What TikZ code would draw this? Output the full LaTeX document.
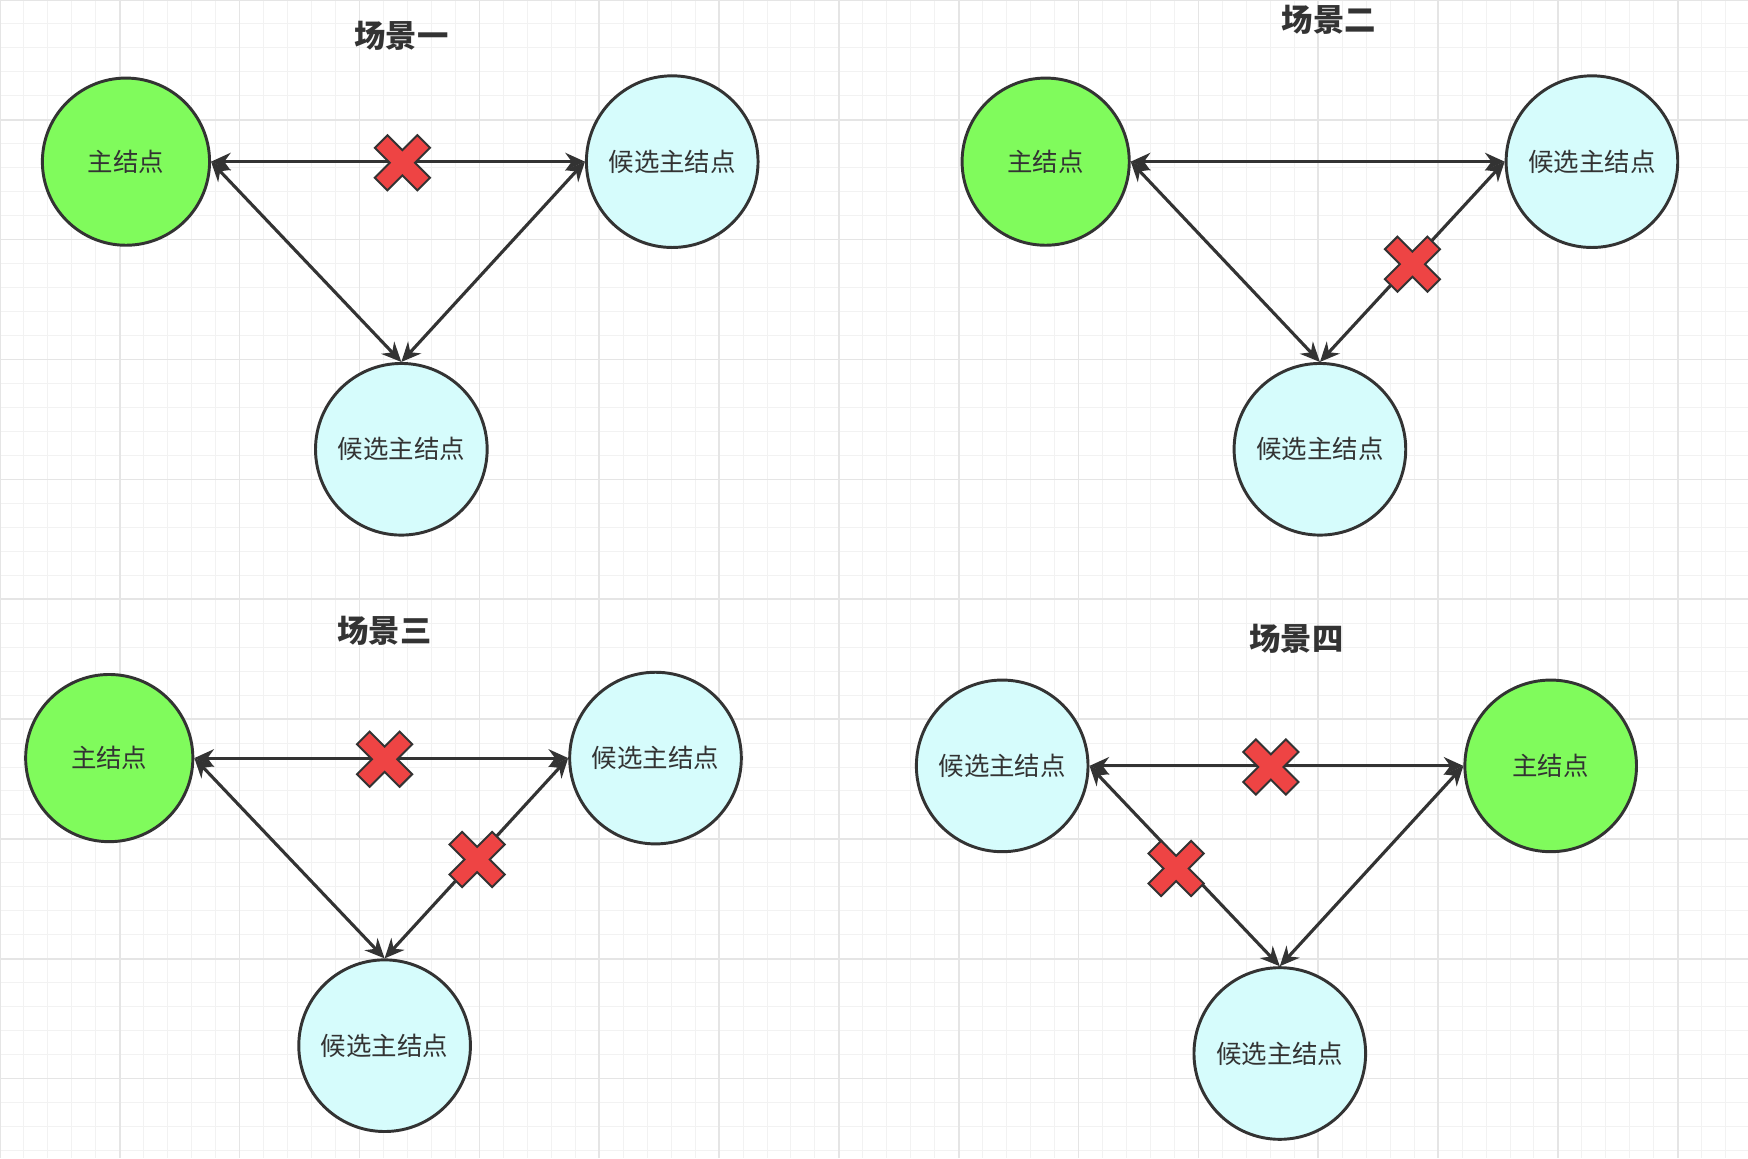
\documentclass[tikz,border=0pt]{standalone}
\usepackage{fontspec}
\setmainfont{Noto Sans CJK SC}
\usetikzlibrary{arrows.meta}
\definecolor{mastergreen}{HTML}{80FB5C}
\definecolor{candcyan}{HTML}{D6FCFC}
\definecolor{edgegray}{HTML}{333333}
\definecolor{crossred}{HTML}{EE4444}
\tikzset{
  master/.style={circle,draw=edgegray,line width=1.5pt,fill=mastergreen,minimum size=3cm,inner sep=0pt,font=\fontsize{13}{14}\selectfont,text=edgegray},
  cand/.style={circle,draw=edgegray,line width=1.5pt,fill=candcyan,minimum size=3.08cm,inner sep=0pt,font=\fontsize{13}{14}\selectfont,text=edgegray},
  link/.style={{Stealth[length=10pt,width=9pt]}-{Stealth[length=10pt,width=9pt]},line width=1.6pt,draw=edgegray},
  title/.style={font=\fontsize{16}{17}\selectfont\bfseries,text=edgegray},
  cross/.pic={\filldraw[rotate=45,fill=crossred,draw=edgegray,line width=1pt]
     (8,8)--(8,27)--(-8,27)--(-8,8)--(-27,8)--(-27,-8)--(-8,-8)--(-8,-27)--(8,-27)--(8,-8)--(27,-8)--(27,8)--cycle;}
}
\begin{document}
\begin{tikzpicture}[x=0.02cm,y=-0.02cm]
    \useasboundingbox (0,0) rectangle (1568,1039);
    % grid
    \foreach \g in {0,21.5,...,1568} \draw[gray!10,line width=0.5pt] (\g,0) -- (\g,1039);
    \foreach \g in {0,21.5,...,1039} \draw[gray!10,line width=0.5pt] (0,\g) -- (1568,\g);
    \foreach \g in {0,107.5,...,1568} \draw[gray!20,line width=0.8pt] (\g,0) -- (\g,1039);
    \foreach \g in {0,107.5,...,1039} \draw[gray!20,line width=0.8pt] (0,\g) -- (1568,\g);

    % scene 1
    \node[title] (t1) at (360,32) {场景一};
    \node[master] (m1) at (113,145) {主结点};
    \node[cand] (c1) at (603,145) {候选主结点};
    \node[cand] (b1) at (360,403) {候选主结点};
    \draw[link] (m1) -- (c1);
    \draw[link] (m1.east) -- (b1.north);
    \draw[link] (c1.west) -- (b1.north);
    \pic at (361,146) {cross};

    % scene 2
    \node[title] (t2) at (1192,18) {场景二};
    \node[master] (m2) at (938,145) {主结点};
    \node[cand] (c2) at (1428,145) {候选主结点};
    \node[cand] (b2) at (1184,403) {候选主结点};
    \draw[link] (m2) -- (c2);
    \draw[link] (m2.east) -- (b2.north);
    \draw[link] (c2.west) -- (b2.north);
    \pic at (1267,237) {cross};

    % scene 3
    \node[title] (t3) at (345,566) {场景三};
    \node[master] (m3) at (98,680) {主结点};
    \node[cand] (c3) at (588,680) {候选主结点};
    \node[cand] (b3) at (345,938) {候选主结点};
    \draw[link] (m3) -- (c3);
    \draw[link] (m3.east) -- (b3.north);
    \draw[link] (c3.west) -- (b3.north);
    \pic at (345,681) {cross};
    \pic at (428,771) {cross};

    % scene 4
    \node[title] (t4) at (1163,573) {场景四};
    \node[cand] (c4) at (899,687) {候选主结点};
    \node[master,minimum size=3.08cm] (m4) at (1391,687) {主结点};
    \node[cand] (b4) at (1148,945) {候选主结点};
    \draw[link] (c4) -- (m4);
    \draw[link] (c4.east) -- (b4.north);
    \draw[link] (m4.west) -- (b4.north);
    \pic at (1140,688) {cross};
    \pic at (1055,779) {cross};
\end{tikzpicture}
\end{document}
